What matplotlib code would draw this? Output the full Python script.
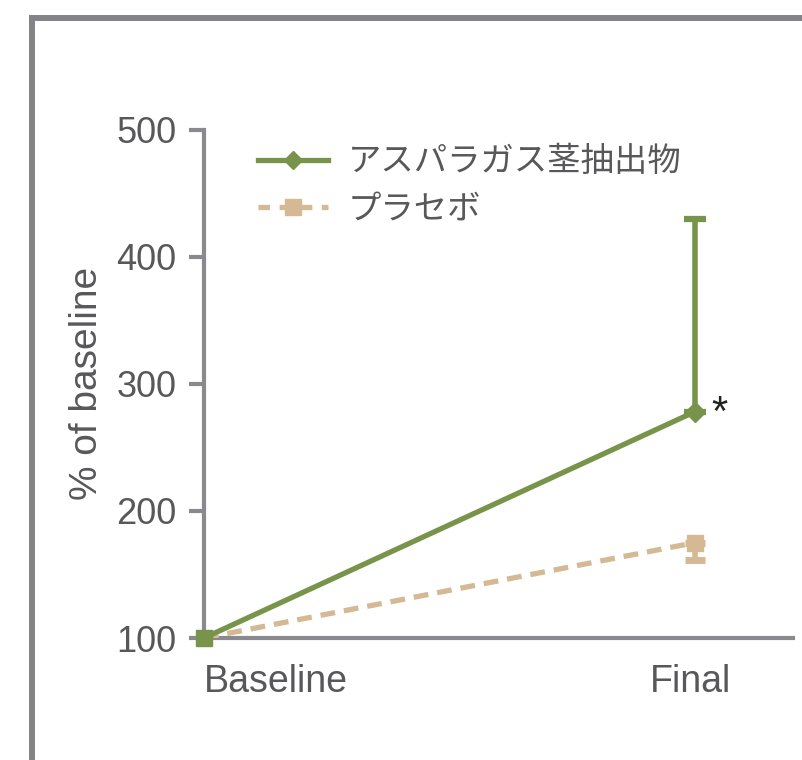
import matplotlib.pyplot as plt
from matplotlib.lines import Line2D
from matplotlib.transforms import offset_copy

plt.rcParams['font.family'] = ['Liberation Sans', 'Noto Sans CJK JP', 'DejaVu Sans']

# timepoints and mean response (% of baseline)
timepoints = ["Baseline", "Final"]
asparagus_mean = [100, 278]
asparagus_err_up = [0, 152]
placebo_mean = [100, 175]
placebo_err_down = [0, 14]

labels = ["アスパラガス茎抽出物", "プラセボ"]
green = "#77944a"
tan = "#d4b994"
grey = "#8a8a8e"
text_grey = "#58585a"
dots = (0, (2.8, 1.7))

fig = plt.figure(figsize=(8.03, 7.60), dpi=100)
ax = fig.add_axes([0.254, 0.1605, 0.7335, 0.669])

x = [0, 1]

# placebo: dotted tan line with square markers, lower error only
ax.errorbar(x[1:], placebo_mean[1:], yerr=[placebo_err_down[1:], [0]],
            fmt="none", ecolor=tan, elinewidth=4, capsize=7, capthick=5, zorder=3)
ax.plot(x, placebo_mean, color=tan, lw=3.8, ls=dots, zorder=3)
ax.plot(x[1:], placebo_mean[1:], marker="s", ms=12, color=tan, ls="none", zorder=4)

# asparagus extract: solid green line, diamond at final, upper error only
ax.errorbar(x[1:], asparagus_mean[1:], yerr=[[0], asparagus_err_up[1:]],
            fmt="none", ecolor=green, elinewidth=4, capsize=8, capthick=4.5, zorder=5)
ax.plot(x, asparagus_mean, color=green, lw=3.8, zorder=5)
ax.plot(x[1:], asparagus_mean[1:], marker="D", ms=10, color=green, ls="none", zorder=6)
ax.plot(x[:1], asparagus_mean[:1], marker="s", ms=11, color=green, ls="none",
        zorder=4, clip_on=False)

ax.text(1.05, asparagus_mean[1] - 2, "*", fontsize=30, color="#222222",
        ha="center", va="center")

ax.set_xlim(0, 1.2)
ax.set_ylim(100, 500)
ax.set_yticks([100, 200, 300, 400, 500])
ax.set_xticks(x)
ax.set_xticklabels(timepoints)
ax.set_ylabel("% of baseline", fontsize=28, color=text_grey, labelpad=8)

for s in ["top", "right"]:
    ax.spines[s].set_visible(False)
for s in ["left", "bottom"]:
    ax.spines[s].set_color(grey)
    ax.spines[s].set_linewidth(3)
ax.tick_params(axis="y", length=11, width=3, color=grey, labelsize=26,
               labelcolor=text_grey, pad=9)
ax.tick_params(axis="x", length=0, labelsize=27, labelcolor=text_grey, pad=19)
xt = ax.get_xticklabels()
xt[0].set_ha("left")
xt[1].set_transform(offset_copy(xt[1].get_transform(), fig=fig, x=-4, units="dots"))

handles = [
    Line2D([], [], color=green, lw=3.8, marker="D", ms=9),
    Line2D([], [], color=tan, lw=3.8, ls=(0, (2.2, 1.8)), marker="s", ms=11),
]
leg = ax.legend(handles, labels, loc="upper left", bbox_to_anchor=(0.04, 1.03),
                frameon=False, fontsize=24, handlelength=2.1, handletextpad=0.6,
                labelspacing=0.38, labelcolor=text_grey)
for t in leg.get_texts():
    t.set_family(['Noto Sans CJK JP', 'DejaVu Sans'])

# outer grey frame, top and left edges
fig.add_artist(Line2D([29 / 803, 1], [1 - 18 / 760] * 2, color="#848488", lw=4.3,
                      transform=fig.transFigure, solid_capstyle="butt"))
fig.add_artist(Line2D([32 / 803] * 2, [0, 1 - 15.5 / 760], color="#848488", lw=4.3,
                      transform=fig.transFigure, solid_capstyle="butt"))

fig.savefig("out.png", dpi=100)
